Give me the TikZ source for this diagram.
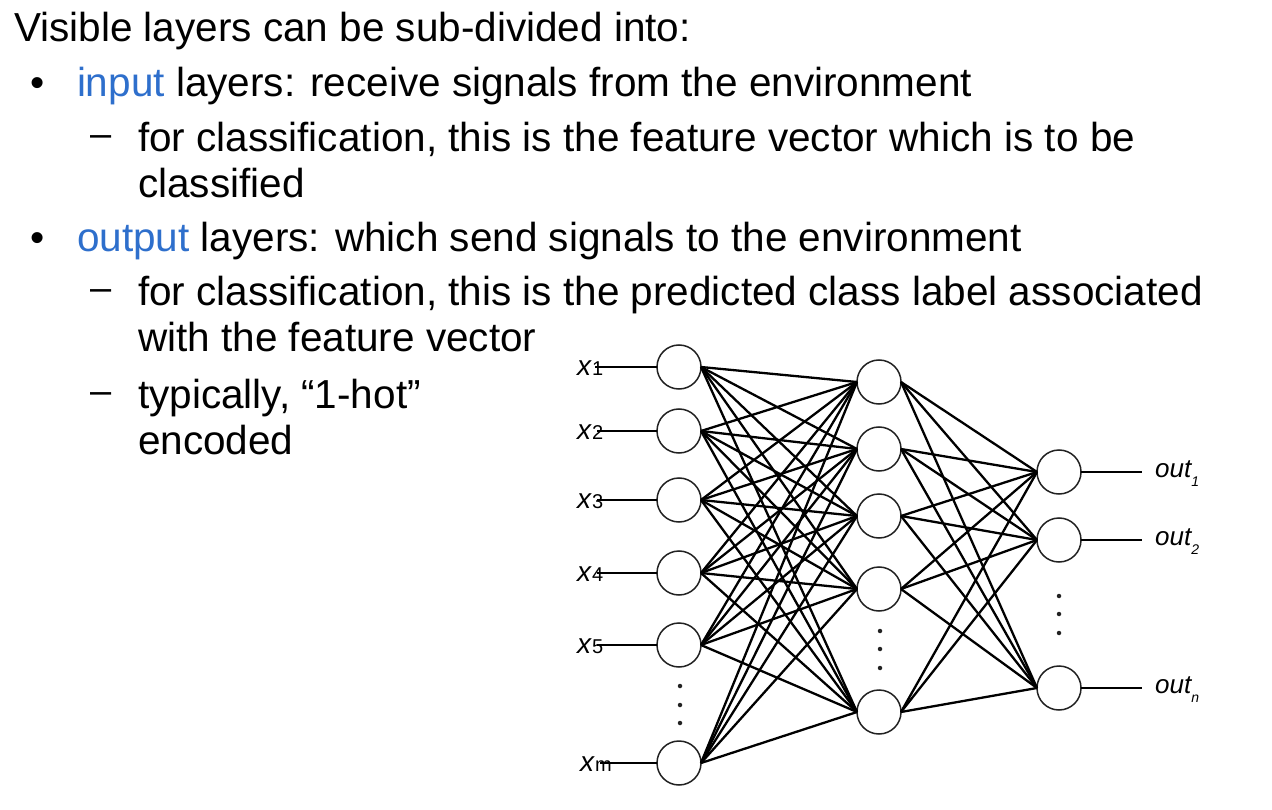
\documentclass[tikz,border=0pt]{standalone}
\usepackage{fontspec}
\setmainfont{Liberation Sans}
\definecolor{myblue}{RGB}{46,111,204}
\definecolor{ringgray}{RGB}{34,34,34}
\begin{document}
\begin{tikzpicture}[x=1pt,y=-1pt,
  txt/.style={anchor=base west,inner sep=0pt,outer sep=0pt,font=\fontsize{40.5}{46}\selectfont},
  dashmark/.style={anchor=base west,inner sep=0pt,font=\fontsize{38}{38}\selectfont},
  neuron/.style={circle,draw=ringgray,line width=1.5pt,minimum size=44pt,inner sep=0pt,outer sep=0pt},
  edge/.style={line width=2.3pt,black},
  inline/.style={line width=1.4pt,black},
  vdot/.style={circle,fill=ringgray,inner sep=0pt,minimum size=4.5pt},
  inlab/.style={anchor=base west,inner sep=0pt,font=\fontsize{28}{28}\selectfont},
  outlab/.style={anchor=base west,inner sep=0pt,font=\fontsize{26}{26}\selectfont\itshape}]
\useasboundingbox (0,0) rectangle (1272,810);
% ---------- text ----------
\node[txt] (t1) at (14,42) {Visible layers can be sub-divided into:};
\node[txt] (b1) at (30,97) {•};
\node[txt] (t2) at (77,97) {\textcolor{myblue}{input} layers: receive signals from the environment};
\node[dashmark] (d1) at (90,147) {–};
\node[txt] (t3) at (138,152) {for classification, this is the feature vector which is to be};
\node[txt] (t4) at (138,198) {classified};
\node[txt] (b2) at (30,252) {•};
\node[txt] (t5) at (77,252) {\textcolor{myblue}{output} layers: which send signals to the environment};
\node[dashmark] (d2) at (90,301) {–};
\node[txt] (t6) at (138,306) {for classification, this is the predicted class label associated};
\node[txt] (t7) at (138,352) {with the feature vector};
\node[dashmark] (d3) at (90,403) {–};
\node[txt] (t8) at (138,408) {typically, “1-hot”};
\node[txt] (t9) at (138,454) {encoded};
% ---------- network ----------
\node[neuron] (i1) at (679,367) {};
\node[neuron] (i2) at (679,431) {};
\node[neuron] (i3) at (679,500) {};
\node[neuron] (i4) at (679,573) {};
\node[neuron] (i5) at (679,645) {};
\node[neuron] (im) at (679,763) {};
\node[vdot] (id1) at (680,686) {};
\node[vdot] (id2) at (680,705) {};
\node[vdot] (id3) at (680,723) {};
\node[neuron] (h1) at (879,382) {};
\node[neuron] (h2) at (879,449) {};
\node[neuron] (h3) at (879,516) {};
\node[neuron] (h4) at (879,589) {};
\node[neuron] (h5) at (879,712) {};
\node[vdot] (hd1) at (880,631) {};
\node[vdot] (hd2) at (880,649) {};
\node[vdot] (hd3) at (880,668) {};
\node[neuron] (o1) at (1059,472) {};
\node[neuron] (o2) at (1059,540) {};
\node[neuron] (on) at (1059,688) {};
\node[vdot] (od1) at (1059,596) {};
\node[vdot] (od2) at (1059,614) {};
\node[vdot] (od3) at (1059,633) {};
% input labels
\node[inlab] (l1) at (577,375) {\textit{x}{\fontsize{20}{20}\selectfont 1}};
\node[inlab] (l2) at (577,439) {\textit{x}{\fontsize{20}{20}\selectfont 2}};
\node[inlab] (l3) at (577,508) {\textit{x}{\fontsize{20}{20}\selectfont 3}};
\node[inlab] (l4) at (577,581) {\textit{x}{\fontsize{20}{20}\selectfont 4}};
\node[inlab] (l5) at (577,653) {\textit{x}{\fontsize{20}{20}\selectfont 5}};
\node[inlab] (lm) at (580,771) {\textit{x}{\fontsize{20}{20}\selectfont m}};
\coordinate (s1) at (595,367);
\coordinate (s2) at (597,431);
\coordinate (s3) at (597,500);
\coordinate (s4) at (597,573);
\coordinate (s5) at (597,645);
\coordinate (sm) at (600,763);
\foreach \n in {1,2,3,4,5,m} \draw[inline] (s\n) -- (i\n.west);
% input -> hidden
\foreach \a in {1,2,3,4,5,m}
  \foreach \b in {1,2,3,4,5}
    \draw[edge] (i\a.east) -- (h\b.west);
% hidden -> output
\foreach \b in {1,2,3,4,5}
  \foreach \c in {1,2,n}
    \draw[edge] (h\b.east) -- (o\c.west);
% outputs
\coordinate (e1) at (1142,472);
\coordinate (e2) at (1142,540);
\coordinate (en) at (1142,688);
\foreach \c in {1,2,n} \draw[edge] (o\c.east) -- (e\c);
\node[outlab] (ol1) at (1155,477) {out\raisebox{-9pt}{\fontsize{14}{14}\selectfont 1}};
\node[outlab] (ol2) at (1155,545) {out\raisebox{-9pt}{\fontsize{14}{14}\selectfont 2}};
\node[outlab] (oln) at (1155,693) {out\raisebox{-9pt}{\fontsize{14}{14}\selectfont n}};
\end{tikzpicture}
\end{document}
